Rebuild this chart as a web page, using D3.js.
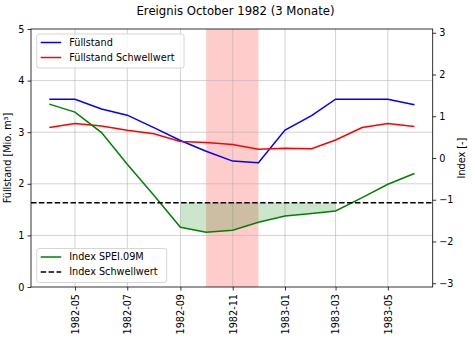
<!DOCTYPE html>
<html>
<head>
<meta charset="utf-8">
<script src="https://cdn.jsdelivr.net/npm/d3@7"></script>
<style>
  body { margin: 0; background: #fff; }
  text { font-family: "DejaVu Sans", sans-serif; fill: #000; }
</style>
</head>
<body>
<div class="chart"></div>
<script>
var months = ['1982-04','1982-05','1982-06','1982-07','1982-08','1982-09','1982-10',
	'1982-11','1982-12','1983-01','1983-02','1983-03','1983-04','1983-05','1983-06'];
var fuellstand = [3.64, 3.64, 3.45, 3.33, 3.09, 2.84, 2.63, 2.44, 2.41, 3.04, 3.32, 3.64, 3.64, 3.64, 3.53];
var fuellSchwelle = [3.09, 3.17, 3.12, 3.04, 2.97, 2.82, 2.80, 2.76, 2.67, 2.69, 2.68, 2.85, 3.09, 3.17, 3.11];
var spei = [1.29, 1.10, 0.61, -0.15, -0.89, -1.66, -1.78, -1.73, -1.54, -1.39, -1.33, -1.27, -0.95, -0.63, -0.37];
var indexSchwelle = -1.07;
var eventSpan = ['1982-10', '1982-12'];
var xTicks = ['1982-05','1982-07','1982-09','1982-11','1983-01','1983-03','1983-05'];
var leftTicks = [0, 1, 2, 3, 4, 5];
var rightTicks = [-3, -2, -1, 0, 1, 2, 3];

var W = 472, H = 340;
var margin = {top: 29, right: 39.3, bottom: 53, left: 31};
var width = W - margin.left - margin.right;
var height = H - margin.top - margin.bottom;

var parse = d3.timeParse('%Y-%m');
var dates = months.map(parse);

var svg = d3.select('.chart')
	.append('svg')
		.attr('width', W)
		.attr('height', H)
		.style('display', 'block');

var g = svg.append('g')
	.attr('transform', `translate(${margin.left}, ${margin.top})`);

// matplotlib style 5% margin on the time axis
var t0 = dates[0].getTime(), t1 = dates[dates.length - 1].getTime();
var pad = (t1 - t0) * 0.05;
var x = d3.scaleTime()
	.domain([new Date(t0 - pad), new Date(t1 + pad)])
	.range([0, width]);

var yL = d3.scaleLinear().domain([0, 5]).range([height, 0]);
var yR = d3.scaleLinear().domain([-3.09, 3.09]).range([height, 0]);

// event span
g.append('rect')
	.attr('x', x(parse(eventSpan[0])))
	.attr('y', 0)
	.attr('width', x(parse(eventSpan[1])) - x(parse(eventSpan[0])))
	.attr('height', height)
	.style('fill', 'red')
	.style('fill-opacity', 0.2);

// grid
g.append('g').selectAll('line')
	.data(xTicks.map(parse))
	.enter().append('line')
	.attr('x1', d => x(d)).attr('x2', d => x(d))
	.attr('y1', 0).attr('y2', height)
	.style('stroke', '#b0b0b0').style('stroke-width', 0.8).style('stroke-opacity', 0.7);

g.append('g').selectAll('line')
	.data(leftTicks.slice(1, -1))
	.enter().append('line')
	.attr('x1', 0).attr('x2', width)
	.attr('y1', d => yL(d)).attr('y2', d => yL(d))
	.style('stroke', '#b0b0b0').style('stroke-width', 0.8).style('stroke-opacity', 0.7);

var rows = dates.map((d, i) => ({d: d, f: fuellstand[i], s: fuellSchwelle[i], v: spei[i]}));

// fill below index threshold
g.append('path')
	.datum(rows)
	.attr('d', d3.area()
		.defined(d => d.v < indexSchwelle)
		.x(d => x(d.d))
		.y0(yR(indexSchwelle))
		.y1(d => yR(d.v)))
	.style('fill', 'green')
	.style('fill-opacity', 0.2);

var lineOf = (key, sc) => d3.line().x(d => x(d.d)).y(d => sc(d[key]));

g.append('path').datum(rows).attr('d', lineOf('f', yL))
	.style('fill', 'none').style('stroke', 'blue').style('stroke-width', 1.5);
g.append('path').datum(rows).attr('d', lineOf('s', yL))
	.style('fill', 'none').style('stroke', 'red').style('stroke-width', 1.5);
g.append('path').datum(rows).attr('d', lineOf('v', yR))
	.style('fill', 'none').style('stroke', 'green').style('stroke-width', 1.5);

g.append('line')
	.attr('x1', 0).attr('x2', width)
	.attr('y1', yR(indexSchwelle)).attr('y2', yR(indexSchwelle))
	.style('stroke', 'black').style('stroke-width', 1.5)
	.style('stroke-dasharray', '5.5,2.4');

// axes
var fmtMinus = d => String(d).replace('-', '\u2212');

var xAxis = d3.axisBottom(x)
	.tickValues(xTicks.map(parse))
	.tickFormat(d3.timeFormat('%Y-%m'))
	.tickSize(3.5)
	.tickSizeOuter(0)
	.tickPadding(3);

var gx = g.append('g')
	.attr('transform', `translate(0, ${height})`)
	.call(xAxis);
gx.selectAll('text')
	.style('text-anchor', 'end')
	.attr('dy', '0.35em')
	.attr('x', -7)
	.attr('y', 0)
	.attr('transform', 'rotate(-90)');

var gl = g.append('g').call(d3.axisLeft(yL).tickValues(leftTicks).tickFormat(d3.format('d')).tickSize(3.5).tickSizeOuter(0).tickPadding(3));
var gr = g.append('g')
	.attr('transform', `translate(${width}, 0)`)
	.call(d3.axisRight(yR).tickValues(rightTicks).tickFormat(fmtMinus).tickSize(3.5).tickSizeOuter(0).tickPadding(3));

[gx, gl, gr].forEach(a => {
	a.select('.domain').remove();
	a.selectAll('line').style('stroke', '#000').style('stroke-width', 0.8);
	a.selectAll('text').style('font-size', '9.7px').style('font-family', '"DejaVu Sans", sans-serif').style('fill', '#000');
});

// frame
g.append('rect')
	.attr('width', width).attr('height', height)
	.style('fill', 'none').style('stroke', '#000').style('stroke-width', 0.8);

// labels
svg.append('text')
	.attr('x', 235.5).attr('y', 15)
	.style('text-anchor', 'middle')
	.style('font-size', '11.7px')
	.text('Ereignis October 1982 (3 Monate)');

svg.append('text')
	.attr('transform', `translate(11, ${margin.top + height / 2}) rotate(-90)`)
	.style('text-anchor', 'middle')
	.style('font-size', '9.7px')
	.text('Füllstand [Mio. m³]');

svg.append('text')
	.attr('transform', `translate(465, ${margin.top + height / 2}) rotate(-90)`)
	.style('text-anchor', 'middle')
	.style('font-size', '9.7px')
	.text('Index [-]');

// legends
function legend(items, lx, ly, w) {
	var lg = svg.append('g').attr('transform', `translate(${lx}, ${ly})`);
	lg.append('rect')
		.attr('width', w).attr('height', 34)
		.attr('rx', 2.5)
		.style('fill', 'white').style('fill-opacity', 0.8)
		.style('stroke', '#cccccc').style('stroke-width', 0.8);
	items.forEach((it, i) => {
		var yy = 8.5 + i * 15;
		lg.append('line')
			.attr('x1', 4).attr('x2', 24.5)
			.attr('y1', yy).attr('y2', yy)
			.style('stroke', it.color).style('stroke-width', 1.5)
			.style('stroke-dasharray', it.dash || null);
		lg.append('text')
			.attr('x', 32.5).attr('y', yy)
			.attr('dy', '0.35em')
			.style('font-size', '9.7px')
			.text(it.label);
	});
}

legend([
	{label: 'Füllstand', color: 'blue'},
	{label: 'Füllstand Schwellwert', color: 'red'}
], 36.7, 34, 147.3);

legend([
	{label: 'Index SPEI.09M', color: 'green'},
	{label: 'Index Schwellwert', color: 'black', dash: '5.5,2.4'}
], 36.7, 248.5, 130);
</script>
</body>
</html>
